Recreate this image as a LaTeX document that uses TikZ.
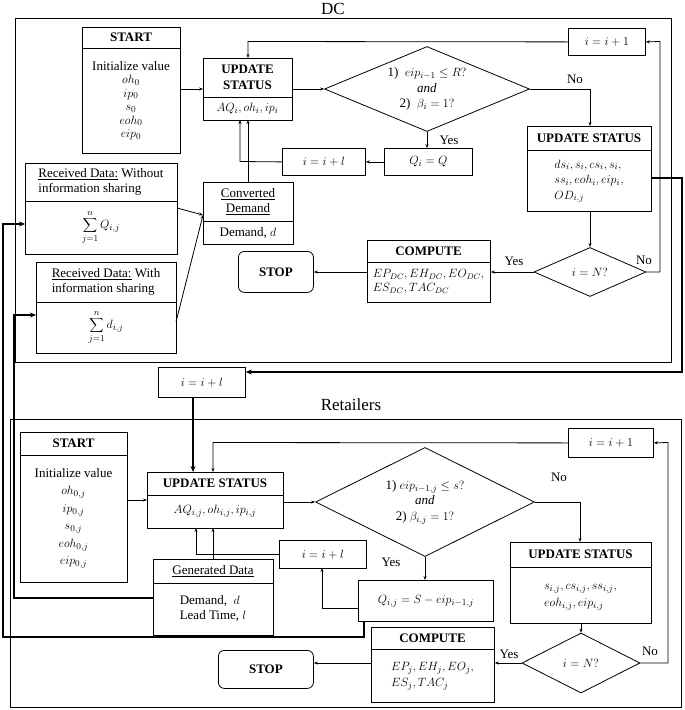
\documentclass[tikz,border=0pt]{standalone}
\usepackage{fontspec}
\setmainfont{Liberation Serif}
\usetikzlibrary{shapes.geometric,arrows.meta}
\newcommand\mybox[8]{%
 \node[draw,line width=0.8pt,inner sep=0pt,anchor=north west,minimum width={(#4-#2)*1pt},minimum height={(#5-#3)*1pt}] (#1) at (#2,#3) {};
 \draw[line width=0.8pt] (#2,#6) -- (#4,#6);
 \node[txt] at ({(#2+#4)/2},{(#3+#6)/2}) {#7};
 \node[txt] at ({(#2+#4)/2},{(#6+#5)/2}) {#8};}
\newcommand\plainbox[6]{%
 \node[draw,line width=0.8pt,inner sep=0pt,anchor=north west,minimum width={(#4-#2)*1pt},minimum height={(#5-#3)*1pt},#6] (#1) at (#2,#3) {};}
\newcommand\mydia[6]{%
 \pgfmathsetmacro\myasp{#4/#5}%
 \node[draw,line width=0.8pt,diamond,inner sep=0pt,shape aspect=\myasp,minimum width=#4pt,minimum height=#5pt] (#1) at (#2,#3) {};
 \node[txt] at (#2,#3) {#6};}
\begin{document}
\begin{tikzpicture}[x=1pt,y=-1pt,
 txt/.style={align=center,font=\fontsize{13}{15.5}\selectfont,inner sep=0pt},
 ln/.style={line width=0.8pt,-{Stealth[length=4pt,width=3pt]}},
 tk/.style={line width=1.6pt,-{Stealth[length=6pt,width=5pt]}},
 lbl/.style={font=\fontsize{13}{15}\selectfont}]
\useasboundingbox (0,0) rectangle (685,710);
% frames
\node[font=\fontsize{17}{18}\selectfont] (dct) at (333,9) {DC};
\draw[line width=0.8pt] (15,18) rectangle (671,362);
\node[font=\fontsize{17}{18}\selectfont] (rt) at (351,405) {Retailers};
\draw[line width=0.8pt] (10,419) rectangle (681,707);
% ===== DC =====
\mybox{st1}{82}{27}{180}{153}{48}{\textbf{START}}{Initialize value\\[-2pt] $oh_0$\\[-2pt] $ip_0$\\[-2pt] $s_0$\\[-2pt] $eoh_0$\\[-2pt] $eip_0$}
\mybox{us1}{203}{58}{292}{120}{97}{\textbf{UPDATE}\\ \textbf{STATUS}}{$AQ_i, oh_i, ip_i$}
\mydia{d1}{427}{89}{205}{85}{1)~~$eip_{i-1}\le R?$\\ \textit{and}\\ 2)~~$\beta_i=1?$}
\plainbox{inc1}{568}{28}{645}{55}{}
\node[txt] at (inc1) {$i=i+1$};
\mybox{us2}{527}{126}{651}{211}{150}{\textbf{UPDATE STATUS}}{\begin{tabular}{@{}l@{}}$ds_i, s_i, cs_i, s_i,$\\ $ss_i, eoh_i, eip_i,$\\ $OD_{i,j}$\end{tabular}}
\plainbox{q1}{384}{148}{472}{175}{}
\node[txt] at (q1) {$Q_i=Q$};
\plainbox{il1}{282}{148}{365}{175}{}
\node[txt] at (il1) {$i=i+l$};
\mybox{cd}{203}{182}{293}{244}{221}{\underline{Converted}\\ \underline{Demand}}{Demand, $d$}
\mybox{rw}{25}{163}{177}{254}{201}{\begin{tabular}{@{}l@{}}\underline{Received Data:} Without\\ information sharing\end{tabular}}{$\displaystyle\sum_{j=1}^{n} Q_{i,j}$}
\mybox{rs}{36}{262}{176}{353}{302}{\begin{tabular}{@{}l@{}}\underline{Received Data:} With\\ information sharing\end{tabular}}{$\displaystyle\sum_{j=1}^{n} d_{i,j}$}
\plainbox{stop1}{238}{251}{313}{292}{rounded corners=6pt}
\node[txt] at (stop1) {\textbf{STOP}};
\mybox{cp1}{367}{240}{490}{302}{262}{\textbf{COMPUTE}}{\fontsize{12}{14}\selectfont\begin{tabular}{@{}l@{}}$EP_{DC}, EH_{DC}, EO_{DC},$\\ $ES_{DC}, TAC_{DC}$\end{tabular}}
\mydia{d2}{590}{272}{112}{49}{$i=N?$}
% DC connectors
\draw[ln] (st1.east |- 0,89) -- (us1.west |- 0,89);
\draw[ln] (us1.east |- 0,89) -- (d1.west);
\draw[ln] (inc1.west) -- (248,41.5) -- (248,58);
\draw[ln] (d1.east) -- (590,89) -- (590,126);
\node[lbl] at (575,79) {No};
\draw[ln] (d1.south) -- (q1.north -| d1.south);
\node[lbl] at (449,140) {Yes};
\draw[ln] (q1.west) -- (il1.east);
\draw[ln] (il1.west) -- (240,161.5) -- (240,120);
\draw[ln] (cd.north -| 248,0) -- (248,120);
\draw[ln] (177,208) -- (203,215);
\draw[ln] (176,322) -- (203,215);
\draw[ln] (us2.south -| d2.north) -- (d2.north);
\draw[ln] (d2.west) -- (cp1.east |- d2.west);
\node[lbl] at (514,261) {Yes};
\draw[ln] (cp1.west |- 0,272) -- (stop1.east |- 0,272);
\draw[ln] (d2.east) -- (660,272) -- (660,41.5) -- (inc1.east);
\node[lbl] at (644,260) {No};
% ===== Retailers =====
\plainbox{il2}{158}{367}{245}{397}{}
\node[txt] at (il2) {$i=i+l$};
\mybox{st2}{20}{432}{127}{582}{455}{\textbf{START}}{Initialize value\\[2pt] $oh_{0,j}$\\[2pt] $ip_{0,j}$\\[2pt] $s_{0,j}$\\[2pt] $eoh_{0,j}$\\[2pt] $eip_{0,j}$}
\mybox{us3}{147}{472}{283}{528}{495}{\textbf{UPDATE STATUS}}{$AQ_{i,j}, oh_{i,j}, ip_{i,j}$}
\mydia{d3}{425}{502}{219}{109}{1)~$eip_{i-1,j}\le s?$\\ \textit{and}\\ 2)~$\beta_{i,j}=1?$}
\plainbox{inc2}{568}{428}{653}{457}{}
\node[txt] at (inc2) {$i=i+1$};
\mybox{us4}{510}{542}{651}{623}{567}{\textbf{UPDATE STATUS}}{\begin{tabular}{@{}l@{}}$s_{i,j}, cs_{i,j}, ss_{i,j},$\\[2pt] $eoh_{i,j}, eip_{i,j}$\end{tabular}}
\plainbox{il3}{279}{540}{366}{568}{}
\node[txt] at (il3) {$i=i+l$};
\plainbox{q2}{358}{580}{493}{621}{}
\node[txt] at (q2) {$Q_{i,j}=S-eip_{i-1,j}$};
\mybox{gd}{153}{559}{273}{635}{583}{\underline{Generated Data}}{\begin{tabular}{@{}l@{}}Demand,~~$d$\\ Lead Time, $l$\end{tabular}}
\plainbox{stop2}{218}{650}{313}{688}{rounded corners=6pt}
\node[txt] at (stop2) {\textbf{STOP}};
\mybox{cp2}{371}{627}{494}{702}{649}{\textbf{COMPUTE}}{\begin{tabular}{@{}l@{}}$EP_j, EH_j, EO_j,$\\ $ES_j, TAC_j$\end{tabular}}
\mydia{d4}{581}{663}{118}{60}{$i=N?$}
% retail connectors
\draw[tk] (il2.south -| 193,0) -- (193,472);
\draw[ln] (st2.east |- 0,500) -- (us3.west |- 0,500);
\draw[ln] (us3.east |- 0,502) -- (d3.west);
\draw[ln] (inc2.west) -- (213,442.5) -- (213,472);
\draw[ln] (d3.east) -- (580,502) -- (580,542);
\node[lbl] at (559,477) {No};
\draw[ln] (d3.south) -- (q2.north -| d3.south);
\node[lbl] at (391,562) {Yes};
\draw[ln] (q2.west |- 0,608) -- (322,608) -- (322,568);
\draw[ln] (il3.west |- 0,554) -- (196,554) -- (196,528);
\draw[ln] (gd.north -| 213,0) -- (213,528);
\draw[ln] (us4.south -| d4.north) -- (d4.north);
\draw[ln] (d4.west) -- (cp2.east |- d4.west);
\node[lbl] at (509,654) {Yes};
\draw[ln] (cp2.west |- 0,663) -- (stop2.east |- 0,663);
\draw[ln] (d4.east) -- (668,663) -- (668,442.5) -- (inc2.east);
\node[lbl] at (650,651) {No};
% thick cross connectors
\draw[tk] (us2.east |- 0,178) -- (682,178) -- (682,372) -- (il2.east |- 0,372);
\draw[tk] (gd.west |- 0,598) -- (14,598) -- (14,315) -- (rs.west |- 0,315);
\draw[tk] (q2.south -| 364,0) -- (364,637) -- (3,637) -- (3,224) -- (rw.west |- 0,224);
\end{tikzpicture}
\end{document}
